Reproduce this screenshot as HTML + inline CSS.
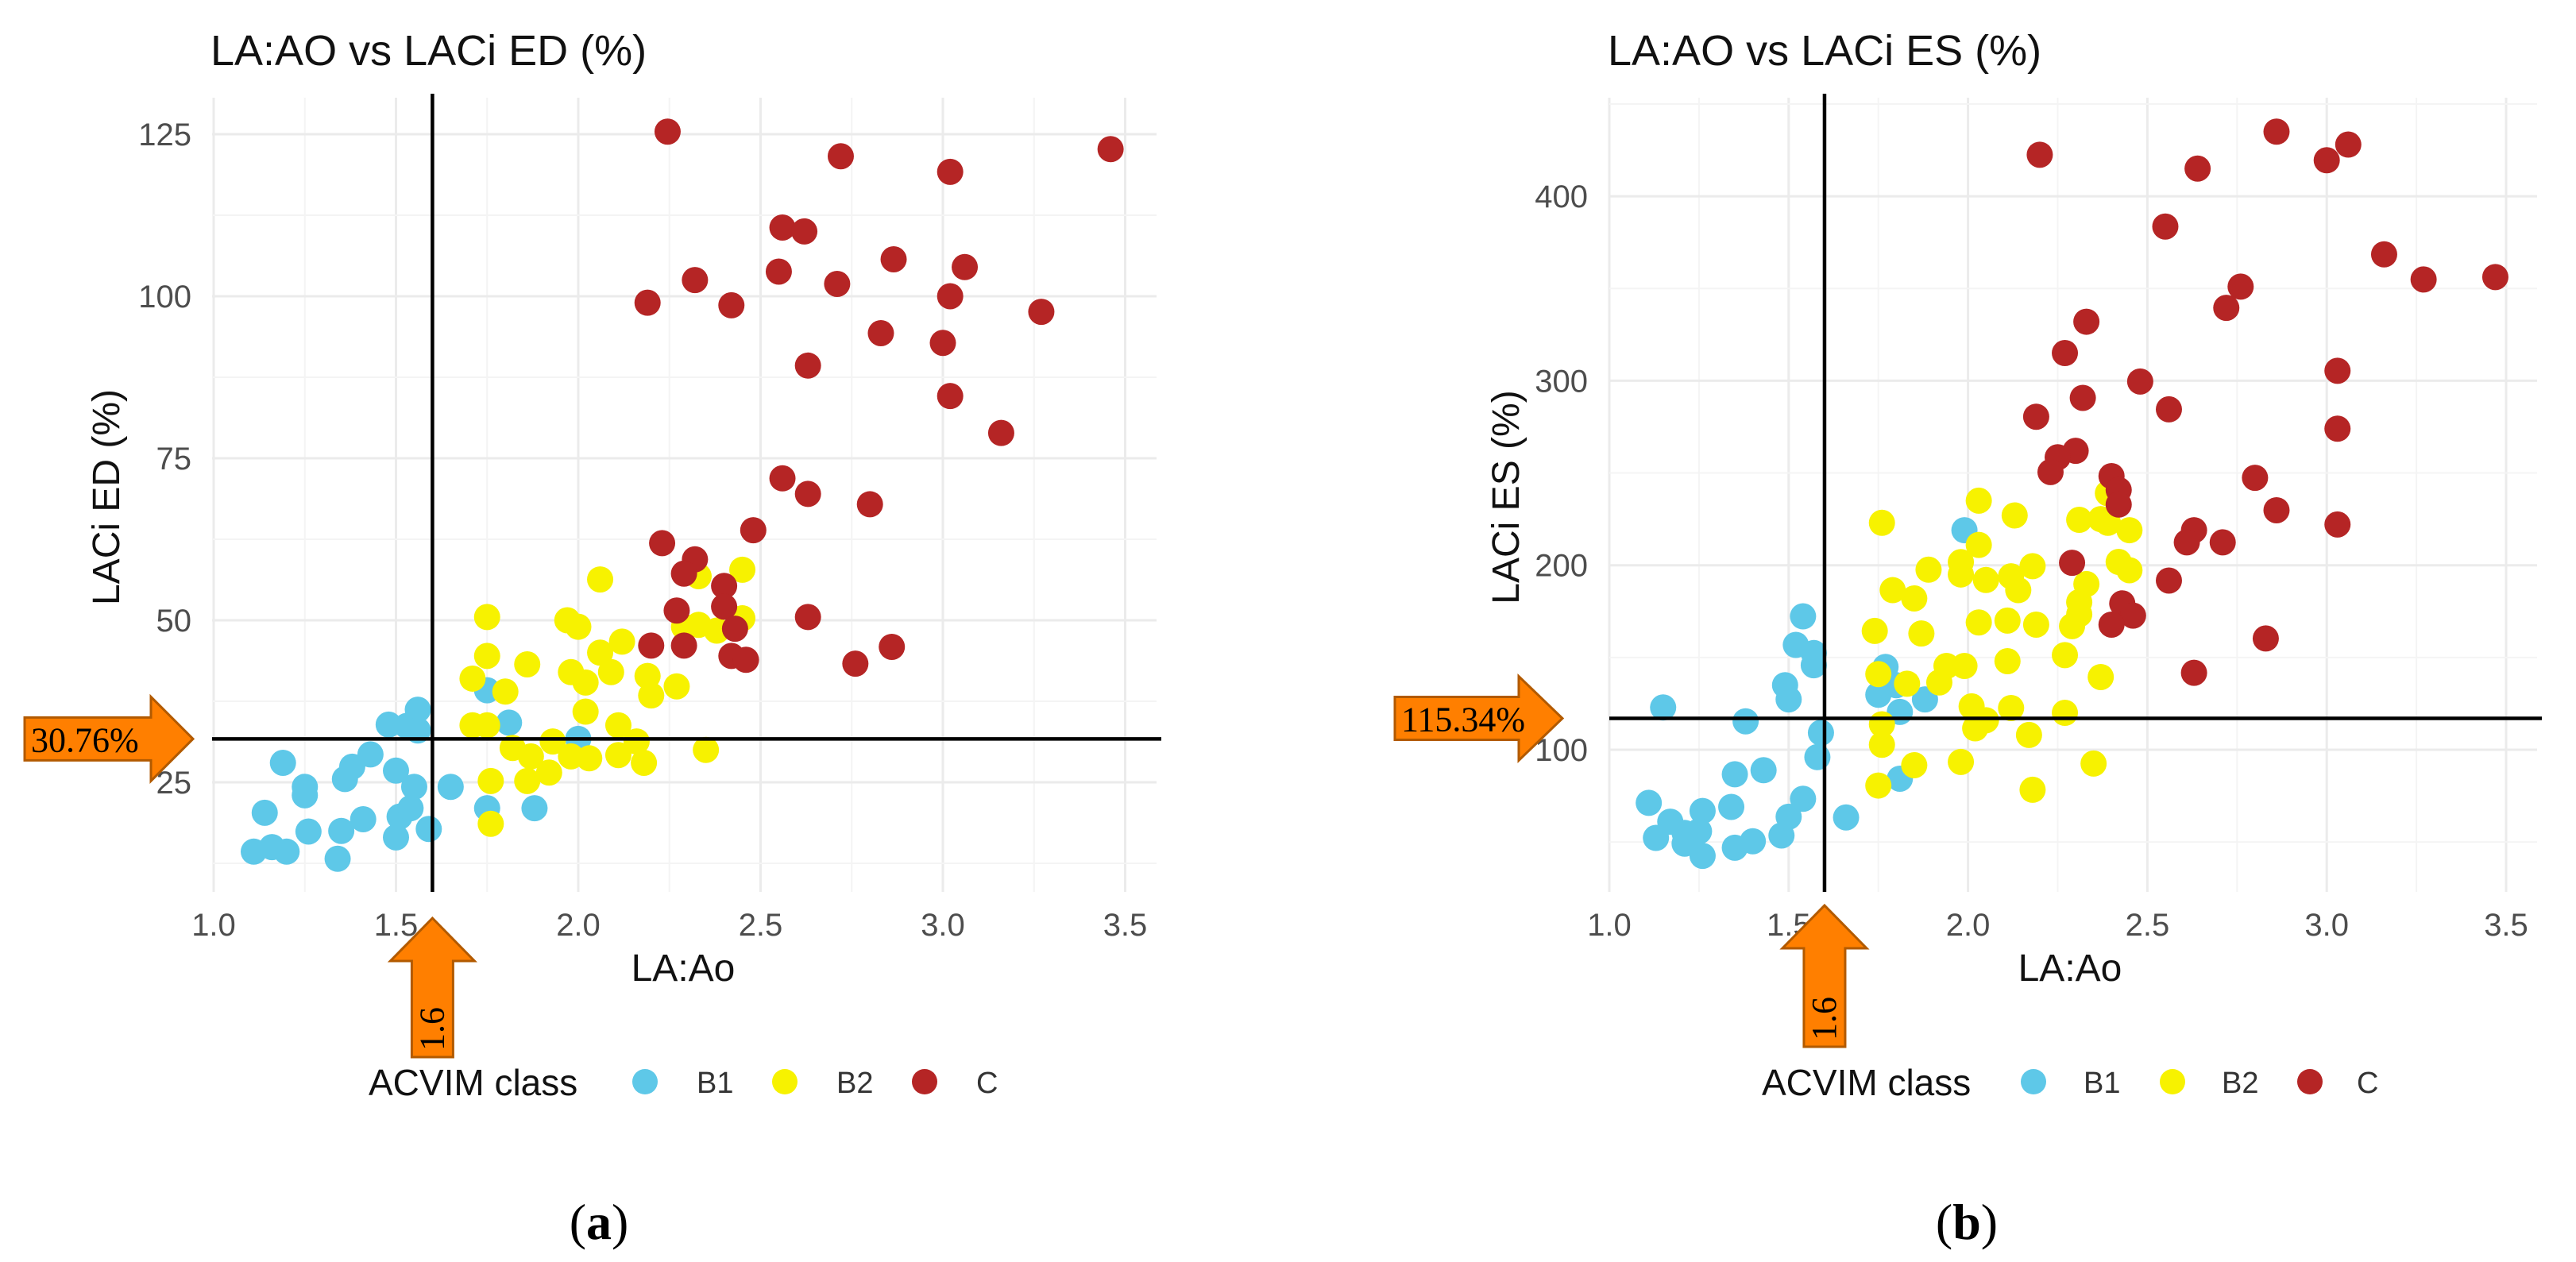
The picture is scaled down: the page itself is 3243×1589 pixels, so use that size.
<!DOCTYPE html>
<html><head><meta charset="utf-8"><style>
html,body{margin:0;padding:0;background:#fff;}
svg{display:block;font-family:"Liberation Sans",sans-serif;}
</style></head><body>
<svg id="fig" width="3243" height="1589" viewBox="0 0 3243 1589" xmlns="http://www.w3.org/2000/svg"></svg>
<script>
// ---- Panel A data (LA:Ao, LACi ED %) ----
const aB1x=[1.11,1.16,1.20,1.14,1.26,1.19,1.25,1.25,1.34,1.35,1.41,1.50,1.51,1.59,1.54,1.55,1.50,1.36,1.38,1.43,1.48,1.53,1.56,1.56,1.65,1.75,1.81,1.75,1.88,2.0];
const aB1y=[14.3,15,14.3,20.3,17.4,28,24.3,23,13.2,17.5,19.3,16.5,19.7,17.8,21,24.3,26.8,25.5,27.4,29.3,33.9,33.7,36.2,33,24.3,39.2,34.2,21,21,31.7];
const aB2x=[1.75,2.06,1.97,2.0,2.45,2.33,1.75,1.86,1.71,1.80,2.06,2.12,2.09,1.98,2.02,2.19,2.27,2.20,2.02,1.71,1.75,2.11,2.16,1.82,1.87,1.93,1.98,2.03,2.11,2.18,2.35,1.86,1.92,1.76,1.76,2.33,2.38,2.45,2.29];
const aB2y=[50.5,56.3,50,49,57.8,56.8,44.5,43.2,41,39,45,46.7,42,42,40.4,41.4,39.8,38.4,35.9,33.8,33.8,33.8,31.3,30.3,29,31.3,29,28.7,29.2,28,30,25.2,26.5,25.2,18.6,49.3,48.4,50.3,49];
const aCx=[2.245,2.72,3.02,3.46,2.56,2.62,2.865,3.06,2.32,2.55,2.71,2.19,2.42,3.02,3.27,2.83,3.0,2.63,3.02,3.16,2.56,2.63,2.80,2.48,2.23,2.32,2.29,2.40,2.27,2.40,2.63,2.43,2.20,2.29,2.86,2.42,2.46,2.76];
const aCy=[125.4,121.6,119.2,122.7,110.6,110,105.7,104.5,102.5,103.8,101.9,99,98.6,100,97.6,94.3,92.8,89.3,84.6,78.9,71.9,69.5,67.9,63.9,61.9,59.4,57.2,55.3,51.5,52.1,50.5,48.7,46.1,46.1,45.9,44.5,43.9,43.3];
const aXTicks=["1.0","1.5","2.0","2.5","3.0","3.5"];
const aYTicks=["25","50","75","100","125"];
const aCut=[1.6,31.7];
// ---- Panel B data (LA:Ao, LACi ES %) ----
const bB1x=[1.15,1.11,1.13,1.17,1.21,1.21,1.26,1.26,1.25,1.34,1.35,1.38,1.43,1.35,1.40,1.48,1.50,1.54,1.49,1.50,1.52,1.54,1.57,1.57,1.59,1.58,1.66,1.77,1.75,1.81,1.81,1.88,1.99,1.80];
const bB1y=[122.9,71.2,52.2,61,54.9,49.1,66.8,42.5,55.8,69,86.7,115.4,88.9,46.9,50.4,53.5,63.7,73.4,135,127.3,156.8,172.3,152.4,145.8,109.2,96,63.3,144.9,129.8,120.5,84.3,127.3,219,135];
const bB2x=[1.76,2.03,2.13,2.31,2.39,2.39,2.45,2.42,2.45,2.18,1.98,1.98,2.03,2.05,2.12,2.14,2.33,2.31,2.31,2.29,1.79,1.85,1.89,1.74,1.87,2.03,2.11,2.19,1.99,1.94,1.92,1.83,1.75,2.11,2.27,2.37,2.27,2.01,2.12,2.05,2.02,1.76,1.76,2.17,1.98,1.85,2.35,1.75,2.18,2.37];
const bB2y=[223,235,227,224.6,239,223,219,201.8,197.3,199.5,201.7,195,211,192,194,186.5,189.8,180,173.4,167,186.5,182,197.6,164.4,163,169,170,167.8,145.4,145.4,136.5,135.8,141,148,151.3,139.4,120,123.5,122.6,116,111.6,113.8,102.7,108,93.4,91.6,92.5,80.6,78.3,225];
const bCx=[2.20,2.86,3.0,3.06,2.64,2.55,3.16,3.27,3.47,2.76,2.72,2.33,2.27,2.48,3.03,2.32,2.56,2.19,3.03,2.30,2.25,2.23,2.40,2.42,2.80,2.42,2.86,3.03,2.63,2.61,2.71,2.29,2.56,2.43,2.46,2.40,2.83,2.63];
const bCy=[422.5,435,419.5,428,415,383.6,368.5,354.9,356.2,351,339.5,332,315,299.6,305.4,290.7,284.5,280.5,274,262,258.5,250.5,248.3,240.8,247.4,232.9,229.8,222.1,219,212.4,212.4,201.3,191.7,179.3,172.7,167.8,160.3,141.7];
const bXTicks=["1.0","1.5","2.0","2.5","3.0","3.5"];
const bYTicks=["100","200","300","400"];
const bCut=[1.6,117];

const NS="http://www.w3.org/2000/svg";
const svg=document.getElementById('fig');
function mk(tag,attrs,parent,text){const e=document.createElementNS(NS,tag);for(const k in attrs)e.setAttribute(k,attrs[k]);if(text!==undefined)e.textContent=text;(parent||svg).appendChild(e);return e;}
const COL={B1:"#5ec8e8",B2:"#f7f200",C:"#b52525"};

function panel(p){
  const g=mk('g',{});
  
  
  const X=v=>p.x0+(v-1)*p.xu, Y=v=>p.y0-(v-p.yv0)*p.yu;
  for(let v=1;v<=3.75;v+=0.25){const x=X(v);if(x>p.R+1)break;const major=Math.abs(v*2-Math.round(v*2))<1e-6;
    const l=mk('line',{x1:x,x2:x,y1:p.T,y2:p.B,stroke:major?'#ebebeb':'#f4f4f4','stroke-width':major?3:2},g);
    }
  for(let v=p.yMin;v<=p.yMax;v+=p.yStep/2){const y=Y(v);if(y<p.T||y>p.B)continue;const major=Math.abs(v/p.yStep-Math.round(v/p.yStep))<1e-6;
    const l=mk('line',{x1:p.L,x2:p.R,y1:y,y2:y,stroke:major?'#ebebeb':'#f4f4f4','stroke-width':major?3:2},g);
    }
  p.xt.forEach(t=>{const e=mk('text',{x:X(+t),y:1178,'text-anchor':'middle','font-size':40,fill:'#4d4d4d'},g,t);
    });
  p.yt.forEach(t=>{const e=mk('text',{x:p.ylx,y:Y(+t)+14,'text-anchor':'end','font-size':40,fill:'#4d4d4d'},g,t);
    });
  [['B1',p.b1x,p.b1y],['B2',p.b2x,p.b2y],['C',p.cx,p.cy]].forEach(([k,xs,ys])=>{
    xs.forEach((xv,i)=>{const c=mk('circle',{cx:X(xv),cy:Y(ys[i]),r:16.5,fill:COL[k]},g);
      });});
  const vl=mk('line',{x1:X(p.cut[0]),x2:X(p.cut[0]),y1:118,y2:p.B,stroke:'#000','stroke-width':4.5},g);
  
  const hl=mk('line',{x1:p.L,x2:p.R+6,y1:Y(p.cut[1]),y2:Y(p.cut[1]),stroke:'#000','stroke-width':4.5},g);
  
  const t=mk('text',{x:p.L-2,y:82,'font-size':54,fill:'#111'},g,p.title);
  
  const xt=mk('text',{x:p.xtx,y:1235,'text-anchor':'middle','font-size':48,fill:'#111'},g,'LA:Ao');
  
  const yt=mk('text',{x:0,y:0,'text-anchor':'middle','font-size':48,fill:'#111',transform:`translate(${p.ytx},626) rotate(-90)`},g,p.ytitle);
  
  const a=p.la, ay=Y(p.cut[1]);
  const la=mk('polygon',{points:`${a.x0},${ay-27} ${a.hb},${ay-27} ${a.hb},${ay-53} ${a.tip},${ay} ${a.hb},${ay+53} ${a.hb},${ay+27} ${a.x0},${ay+27}`,fill:'#ff7f00',stroke:'#b25a00','stroke-width':3},g);
  
  const lt=mk('text',{x:a.x0+8,y:ay+16,'font-family':'"Liberation Serif",serif','font-size':44,fill:'#000'},g,a.label);
  
  const bx=X(p.cut[0]), bt=p.ba;
  const ba=mk('polygon',{points:`${bx},${bt.top} ${bx+53},${bt.top+54} ${bx+26},${bt.top+54} ${bx+26},${bt.bot} ${bx-26},${bt.bot} ${bx-26},${bt.top+54} ${bx-53},${bt.top+54}`,fill:'#ff7f00',stroke:'#b25a00','stroke-width':3},g);
  
  const bl=mk('text',{x:0,y:0,'font-family':'"Liberation Serif",serif','font-size':44,fill:'#000',transform:`translate(${bx+14},${bt.bot-8}) rotate(-90)`},g,'1.6');
  
  const lg=mk('g',{},g);
  const lgt=mk('text',{x:p.leg.t,y:1379,'font-size':46,fill:'#111'},lg,'ACVIM class');
  
  ['B1','B2','C'].forEach((k,i)=>{
    const c=mk('circle',{cx:p.leg.d[i],cy:1362,r:16,fill:COL[k]},lg);
    
    const tx=mk('text',{x:p.leg.l[i],y:1376,'font-size':38,fill:'#333'},lg,k);
    });
  const cap=mk('text',{x:p.capx,y:1560,'text-anchor':'middle','font-family':'"Liberation Serif",serif','font-size':64,fill:'#000'},g);
  
  mk('tspan',{},cap,'(');mk('tspan',{'font-weight':'bold'},cap,p.cap);mk('tspan',{},cap,')');
}
panel({id:'a',x0:269,xu:459,y0:169,yv0:125,yu:8.16,L:267,R:1456,T:123,B:1123,yMin:0,yMax:137.5,yStep:25,
  xt:aXTicks,yt:aYTicks,ylx:241,b1x:aB1x,b1y:aB1y,b2x:aB2x,b2y:aB2y,cx:aCx,cy:aCy,cut:aCut,
  title:'LA:AO vs LACi ED (%)',ytitle:'LACi ED (%)',xtx:860,ytx:150,
  la:{x0:31,hb:190,tip:243,label:'30.76%'},ba:{top:1156,bot:1331},
  leg:{t:464,d:[812,988,1164],l:[877,1053,1229]},capx:754,cap:'a'});
panel({id:'b',x0:2026,xu:451.6,y0:944,yv0:100,yu:2.323,L:2026,R:3194,T:123,B:1123,yMin:0,yMax:500,yStep:100,
  xt:bXTicks,yt:bYTicks,ylx:1999,b1x:bB1x,b1y:bB1y,b2x:bB2x,b2y:bB2y,cx:bCx,cy:bCy,cut:bCut,
  title:'LA:AO vs LACi ES (%)',ytitle:'LACi ES (%)',xtx:2606,ytx:1912,
  la:{x0:1756,hb:1912,tip:1967,label:'115.34%'},ba:{top:1140,bot:1318},
  leg:{t:2218,d:[2560,2735,2908],l:[2623,2797,2967]},capx:2476,cap:'b'});
</script>
</body></html>
